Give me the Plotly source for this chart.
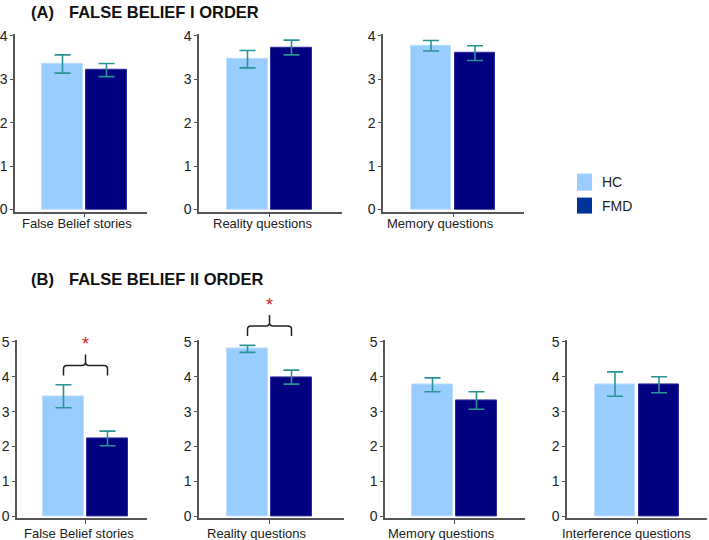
import plotly.graph_objects as go

# ---------------- data ----------------
groups = ["HC", "FMD"]
categories_A = ["False Belief stories", "Reality questions", "Memory questions"]
hc_A = [3.35, 3.46, 3.77]
hc_A_err = [0.21, 0.20, 0.12]
fmd_A = [3.21, 3.73, 3.60]
fmd_A_err = [0.15, 0.17, 0.17]

categories_B = ["False Belief stories", "Reality questions", "Memory questions", "Interference questions"]
hc_B = [3.44, 4.80, 3.77, 3.79]
hc_B_err = [0.33, 0.10, 0.20, 0.35]
fmd_B = [2.23, 3.99, 3.32, 3.77]
fmd_B_err = [0.21, 0.20, 0.25, 0.23]
significant_B = [True, True, False, False]

ticks_A = [0, 1, 2, 3, 4]
ticks_B = [0, 1, 2, 3, 4, 5]

# ---------------- styling / layout constants ----------------
W, H = 709, 540
HC_COLOR = "#99CCFF"
FMD_COLOR = "#000080"
FMD_LEGEND = "#003399"
ERR_COLOR = "#2A9494"
AXIS_COLOR = "#555555"
FONT = "Liberation Sans, Arial, sans-serif"
UNIT_X = 44.0  # px between the two bar centres
BAR_W = 0.93
VS = 1 / 0.977  # vertical calibration


def Y(px):
    return 270 + (px - 270) * VS


# panel pixel geometry: (left, right, hc_centre, label offset in bar units)
row_A = [(15, 147, 62.5, 0.32), (199, 342, 247.5, 0.33), (383, 524, 431, 0.21)]
row_B = [(17, 147, 63.5, 0.35), (199, 344, 247.5, 0.20), (385, 525, 432.5, 0.20),
         (567, 707, 615, 0.25)]
# vertical geometry: (top px, axis px, zero px, unit px, label px)
geo_A = (33, 211, 209, 43.5, 223)
geo_B = (340, 518, 516, 34.9, 533)

fig = go.Figure()
layout = dict(
    width=W, height=H, margin=dict(l=0, r=0, t=0, b=0),
    paper_bgcolor="white", plot_bgcolor="white", showlegend=False,
    font=dict(family=FONT, color="#222222"),
    bargap=0, barmode="overlay",
)
shapes, annotations = [], []
axis_info = []


def add_panel(idx, cat, hc, hce, fmd, fmde, xgeo, ygeo, yticks):
    left, right, c, lab_off = xgeo
    top, axis_px, zero_px, unit, lab_px = ygeo
    xr = [-(c - left) / UNIT_X, (right - c) / UNIT_X]
    yr = [-(axis_px - zero_px) / unit, (zero_px - top) / unit]
    xname = "xaxis" if idx == 1 else f"xaxis{idx}"
    yname = "yaxis" if idx == 1 else f"yaxis{idx}"
    xs = "x" if idx == 1 else f"x{idx}"
    ys = "y" if idx == 1 else f"y{idx}"
    dx = [left / W, right / W]
    dy = [1 - Y(axis_px) / H, 1 - Y(top) / H]
    layout[xname] = dict(
        domain=dx, range=xr, anchor=ys, showgrid=False, zeroline=False,
        showline=True, linecolor=AXIS_COLOR, linewidth=1.5,
        ticks="outside", ticklen=4, tickcolor=AXIS_COLOR, tickwidth=1,
        tickvals=[0.5], showticklabels=False, fixedrange=True,
    )
    layout[yname] = dict(
        domain=dy, range=yr, anchor=xs, showgrid=False, zeroline=False,
        showline=True, linecolor=AXIS_COLOR, linewidth=1.5,
        ticks="outside", ticklen=3, tickcolor=AXIS_COLOR, tickwidth=1,
        tickvals=yticks, tickfont=dict(size=14, color="#222"), fixedrange=True,
    )
    fig.add_trace(go.Bar(
        x=[0], y=[hc], width=BAR_W, xaxis=xs, yaxis=ys, name=groups[0],
        marker=dict(color=HC_COLOR, line=dict(color="#BFE0FF", width=1)),
        error_y=dict(type="data", array=[hce], color=ERR_COLOR, thickness=1.6, width=8),
    ))
    fig.add_trace(go.Bar(
        x=[1], y=[fmd], width=BAR_W, xaxis=xs, yaxis=ys, name=groups[1],
        marker=dict(color=FMD_COLOR, line=dict(color="#2B2B9A", width=1)),
        error_y=dict(type="data", array=[fmde], color=ERR_COLOR, thickness=1.6, width=8),
    ))
    annotations.append(dict(x=lab_off, xref=xs, y=1 - Y(lab_px) / H, yref="paper",
                            text=cat, showarrow=False, xanchor="center", yanchor="middle",
                            font=dict(size=13, color="#222")))
    axis_info.append((dx, xr, dy, yr))


idx = 1
for i, cat in enumerate(categories_A):
    add_panel(idx, cat, hc_A[i], hc_A_err[i], fmd_A[i], fmd_A_err[i], row_A[i], geo_A, ticks_A)
    idx += 1

b_start = idx
for i, cat in enumerate(categories_B):
    add_panel(idx, cat, hc_B[i], hc_B_err[i], fmd_B[i], fmd_B_err[i], row_B[i], geo_B, ticks_B)
    idx += 1


def to_paper(info, xv, yv):
    dx, xr, dy, yr = info
    px = dx[0] + (xv - xr[0]) / (xr[1] - xr[0]) * (dx[1] - dx[0])
    py = dy[0] + (yv - yr[0]) / (yr[1] - yr[0]) * (dy[1] - dy[0])
    return px, py


# significance brackets
for i, sig in enumerate(significant_B):
    if not sig:
        continue
    info = axis_info[b_start - 1 + i]
    top_val = max(hc_B[i] + hc_B_err[i], fmd_B[i] + fmd_B_err[i]) + 0.27
    xl, yend = to_paper(info, 0, top_val)
    xrt, _ = to_paper(info, 1, top_val)
    xc = (xl + xrt) / 2
    yh = yend + 10 * VS / H
    ypk = yh + 11 * VS / H
    yst = ypk + 10 * VS / H
    rx, ry = 3.5 / W, 3.5 / H
    path = (
        f"M {xl},{yend} L {xl},{yh - ry} Q {xl},{yh} {xl + rx},{yh} "
        f"L {xc - rx},{yh} Q {xc},{yh} {xc},{yh + ry} L {xc},{ypk} "
        f"M {xc},{yh + ry} Q {xc},{yh} {xc + rx},{yh} "
        f"L {xrt - rx},{yh} Q {xrt},{yh} {xrt},{yh - ry} L {xrt},{yend}"
    )
    shapes.append(dict(type="path", path=path, xref="paper", yref="paper",
                       line=dict(color="#222222", width=1.5)))
    annotations.append(dict(x=xc, y=yst, xref="paper", yref="paper", text="*",
                            showarrow=False, font=dict(size=18, color="#E0201E"),
                            xanchor="center", yanchor="middle"))

# legend (drawn)
legend_items = [(groups[0], HC_COLOR, 173, 190), (groups[1], FMD_LEGEND, 197, 213)]
for name, col, y0, y1 in legend_items:
    shapes.append(dict(type="rect", xref="paper", yref="paper",
                       x0=577 / W, x1=592 / W, y0=1 - Y(y1) / H, y1=1 - Y(y0) / H,
                       fillcolor=col, line=dict(width=0)))
    annotations.append(dict(x=600 / W, y=1 - Y((y0 + y1) / 2) / H, xref="paper", yref="paper",
                            text=name, showarrow=False, xanchor="left", yanchor="middle",
                            font=dict(size=14, color="#222")))

# panel titles
titles = [("(A)", "FALSE BELIEF I ORDER", 11), ("(B)", "FALSE BELIEF II ORDER", 279)]
for lab, txt, yc in titles:
    annotations.append(dict(x=29 / W, y=1 - Y(yc) / H, xref="paper", yref="paper", text=f"<b>{lab}</b>",
                            showarrow=False, xanchor="left", yanchor="middle",
                            font=dict(size=16.5, color="#111")))
    annotations.append(dict(x=67 / W, y=1 - Y(yc) / H, xref="paper", yref="paper", text=f"<b>{txt}</b>",
                            showarrow=False, xanchor="left", yanchor="middle",
                            font=dict(size=16.5, color="#111")))

layout["shapes"] = shapes
layout["annotations"] = annotations
fig.update_layout(**layout)
fig.write_html(
    "out.html",
    config={"displayModeBar": False},
    post_script="document.body.style.margin='0';document.body.style.overflow='hidden';",
)
